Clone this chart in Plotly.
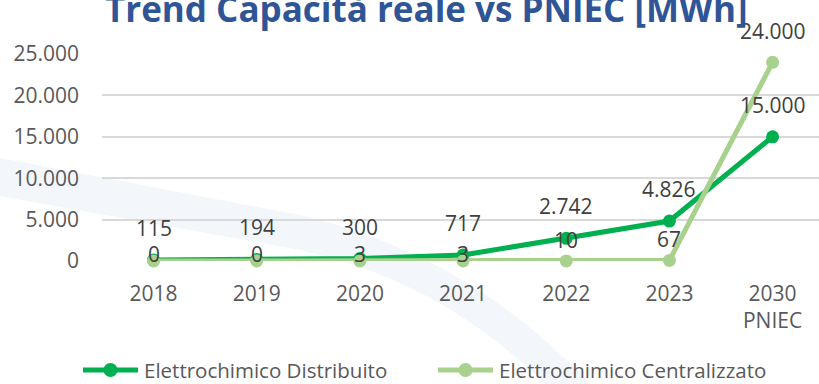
import plotly.graph_objects as go

# Categories and series (MWh)
years = ["2018", "2019", "2020", "2021", "2022", "2023", "2030<br>PNIEC"]
distribuito = [115, 194, 300, 717, 2742, 4826, 15000]
centralizzato = [0, 0, 3, 3, 10, 67, 24000]
series_names = ["Elettrochimico Distribuito", "Elettrochimico Centralizzato"]
y_ticks = [0, 5000, 10000, 15000, 20000, 25000]
y_tick_text = ["0", "5.000", "10.000", "15.000", "20.000", "25.000"]

DARK = "#00B050"
LIGHT = "#A9D18E"
FONT = "Open Sans"
TEXT = "#595959"

W, H = 819, 384
L, R, T, B = 102, 0, 54, 123
PW, PH = W - L - R, H - T - B


def fmt(v):
    return f"{v:,}".replace(",", ".")


def px(x, y):
    """pixel position -> paper coordinates"""
    return (x - L) / PW, (H - B - y) / PH


def path(points):
    parts = []
    for cmd, pts in points:
        coords = " ".join(f"{a:.4f},{b:.4f}" for a, b in (px(*p) for p in pts))
        parts.append(f"{cmd} {coords}")
    return " ".join(parts) + " Z"


fig = go.Figure()

# faint background watermark band
fig.add_shape(
    type="path", xref="paper", yref="paper", layer="below",
    path=path([("M", [(0, 158)]), ("L", [(300, 215)]),
               ("Q", [(470, 255), (590, 384)]), ("L", [(545, 384)]),
               ("Q", [(440, 280), (300, 250)]), ("L", [(0, 196)])]),
    fillcolor="rgba(215,226,240,0.3)", line=dict(width=0),
)

colors = [DARK, LIGHT]
for name, vals, col in zip(series_names, [distribuito, centralizzato], colors):
    fig.add_trace(go.Scatter(
        x=years, y=vals, name=name, mode="lines+markers",
        line=dict(color=col, width=5),
        marker=dict(color=col, size=13),
        cliponaxis=False, showlegend=False,
    ))

# value labels
label_font = dict(family=FONT, size=21, color="#404040")
for i, v in enumerate(distribuito):
    fig.add_annotation(x=i, y=v, text=fmt(v), showarrow=False,
                       yshift=32, font=label_font)
cent_shift = [7, 7, 7, 7, 21, 21, 31]
for i, (v, s) in enumerate(zip(centralizzato, cent_shift)):
    fig.add_annotation(x=i, y=v, text=fmt(v), showarrow=False,
                       yshift=s, font=label_font)

# legend: line with a dot, followed by the series name
leg_y = 370
for name, col, x0 in zip(series_names, colors, [83, 438]):
    lx0, ly = px(x0, leg_y)
    lx1, _ = px(x0 + 55, leg_y)
    fig.add_shape(type="line", xref="paper", yref="paper",
                  x0=lx0, x1=lx1, y0=ly, y1=ly,
                  line=dict(color=col, width=5))
    cx, _ = px(x0 + 27.5, leg_y)
    fig.add_shape(type="circle", xref="paper", yref="paper",
                  xsizemode="pixel", ysizemode="pixel",
                  xanchor=cx, yanchor=ly, x0=-7, x1=7, y0=-7, y1=7,
                  fillcolor=col, line=dict(width=0))
    tx, _ = px(x0 + 60, leg_y)
    fig.add_annotation(text=name, xref="paper", yref="paper",
                       x=tx, y=ly, xanchor="left", yanchor="middle",
                       showarrow=False, borderpad=0,
                       font=dict(family=FONT, size=20.5, color=TEXT))

fig.add_annotation(
    text="<b>Trend Capacità reale vs PNIEC [MWh]</b>",
    xref="paper", yref="paper", x=0.4526, y=1.0, yshift=20,
    yanchor="bottom", showarrow=False,
    font=dict(family=FONT, size=35, color="#2F5597"),
)

fig.update_layout(
    width=W, height=H,
    margin=dict(l=L, r=R, t=T, b=B, autoexpand=False),
    paper_bgcolor="white", plot_bgcolor="rgba(0,0,0,0)",
    font=dict(family=FONT, size=21, color=TEXT),
    showlegend=False,
    xaxis=dict(
        type="category", range=[-0.5, 6.45], showgrid=False,
        showline=False, zeroline=False, ticks="", automargin=False,
        ticklabelstandoff=18,
        tickfont=dict(family=FONT, size=21, color=TEXT),
    ),
    yaxis=dict(
        range=[0, 25000], tickvals=y_ticks, ticktext=y_tick_text,
        showgrid=True, gridcolor="#D9D9D9", gridwidth=1.5,
        zeroline=False, showline=False, ticks="", automargin=False,
        ticklabelstandoff=22,
        tickfont=dict(family=FONT, size=21, color=TEXT),
    ),
)

fig.write_html("out.html")
